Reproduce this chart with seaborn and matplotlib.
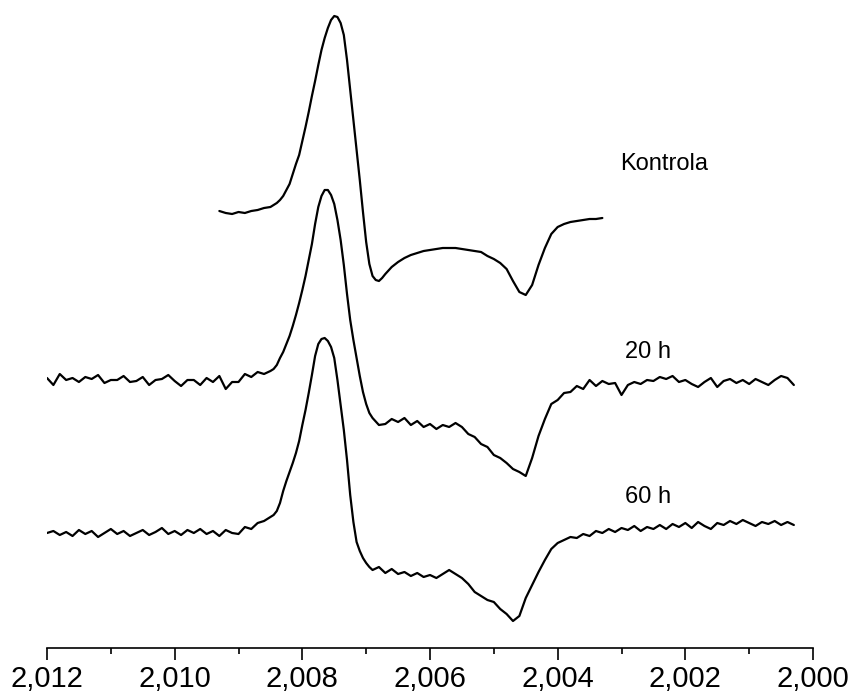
import numpy as np
import pandas as pd
import matplotlib
matplotlib.use("Agg")
import matplotlib.pyplot as plt
import seaborn as sns
from matplotlib.ticker import FixedLocator, FuncFormatter

# ---------------- data ----------------
# g-factor sampling: coarse step 0.0001 on the wings, 0.00005 across the peak
kon_g = [(2.0093, 2.0086, 8), (2.0085, 2.0067, 37), (2.0066, 2.0033, 34)]
long_g = [(2.0120, 2.0086, 35), (2.0085, 2.0069, 33), (2.0068, 2.0003, 66)]

# EPR signal, arbitrary units (vertical offsets included)
kon_left = [437, 435, 434, 436, 435, 437, 438, 440]
kon_peak = [441, 443, 445, 448, 452, 458, 464, 474, 484, 493,
            507, 521, 536, 552, 567, 583, 598, 610, 620, 628,
            632, 631, 625, 613, 588, 558, 528, 498, 468, 436,
            406, 384, 372, 368, 367, 370, 374]
kon_right = [381, 386, 390, 393, 395, 397, 398, 399, 400, 400,
             400, 399, 398, 397, 396, 392, 389, 385, 379, 367,
             356, 353, 363, 383, 400, 414, 421, 424, 426, 427,
             428, 429, 429, 430]

h20_left = [270, 263, 274, 268, 270, 266, 271, 269, 273, 265,
            268, 268, 272, 266, 267, 271, 263, 268, 269, 273,
            267, 262, 268, 268, 263, 270, 266, 272, 259, 266,
            266, 274, 271, 276, 274]
h20_peak = [277, 279, 283, 290, 296, 304, 312, 322, 333, 345,
            358, 372, 388, 404, 424, 441, 452, 458, 458, 453,
            444, 428, 408, 383, 354, 328, 308, 290, 272, 256,
            244, 235, 230]
h20_right = [223, 224, 229, 226, 230, 223, 227, 221, 224, 219,
             223, 221, 225, 221, 214, 211, 204, 201, 193, 190,
             185, 179, 176, 172, 190, 212, 229, 244, 248, 255,
             256, 262, 259, 268, 262, 267, 264, 265, 253, 263,
             266, 264, 268, 267, 271, 269, 272, 266, 268, 264,
             261, 266, 270, 261, 267, 269, 265, 268, 264, 269,
             266, 263, 268, 272, 270, 263]

h60_left = [115, 117, 113, 116, 112, 118, 114, 117, 111, 115,
            119, 114, 117, 112, 115, 118, 113, 116, 120, 114,
            117, 113, 118, 115, 119, 114, 117, 112, 118, 115,
            114, 121, 119, 125, 127]
h60_peak = [131, 133, 137, 145, 157, 167, 176, 185, 195, 207,
            223, 238, 255, 273, 292, 304, 309, 310, 307, 301,
            290, 268, 243, 218, 188, 153, 126, 106, 97, 90,
            85, 81, 78]
h60_right = [81, 75, 79, 74, 76, 72, 75, 71, 73, 70,
             74, 78, 74, 70, 64, 56, 52, 48, 46, 39,
             34, 27, 32, 50, 63, 76, 88, 99, 105, 108,
             111, 110, 114, 112, 117, 115, 119, 116, 120, 118,
             122, 117, 121, 119, 123, 119, 124, 121, 125, 120,
             126, 122, 119, 125, 123, 127, 124, 128, 125, 122,
             126, 124, 127, 123, 126, 123]

labels = ["Kontrola", "20 h", "60 h"]
label_g = [2.00302, 2.00295, 2.00295]
label_y = [478, 290, 145]

major_ticks = [2.012, 2.010, 2.008, 2.006, 2.004, 2.002, 2.000]
minor_ticks = [2.011, 2.009, 2.007, 2.005, 2.003, 2.001]

# ---------------- build table ----------------
def trace(name, grid, parts):
    g = np.concatenate([np.linspace(a, b, n) for a, b, n in grid])
    y = np.concatenate([np.asarray(p, float) for p in parts])
    return pd.DataFrame({"g": g, "signal": y, "sample": name})

df = pd.concat([
    trace("Kontrola", kon_g, [kon_left, kon_peak, kon_right]),
    trace("20 h", long_g, [h20_left, h20_peak, h20_right]),
    trace("60 h", long_g, [h60_left, h60_peak, h60_right]),
], ignore_index=True)

# ---------------- plot ----------------
sns.set_theme(style="white")
plt.rcParams["font.family"] = ["Liberation Sans", "DejaVu Sans"]

fig = plt.figure(figsize=(8.51, 6.93), dpi=100)
ax = fig.add_axes([47 / 851, 45 / 693, (813 - 47) / 851, 648 / 693])

for name in labels:
    sns.lineplot(data=df[df["sample"] == name], x="g", y="signal",
                 estimator=None, sort=False, color="black", linewidth=1.6, ax=ax)

ax.set_xlim(2.012, 2.000)
ax.set_ylim(0, 648)
ax.set_xlabel("")
ax.set_ylabel("")
ax.set_yticks([])
for s in ["top", "right", "left"]:
    ax.spines[s].set_visible(False)
ax.spines["bottom"].set_color("black")
ax.spines["bottom"].set_linewidth(1.2)
ax.patch.set_alpha(0)

ax.xaxis.set_major_locator(FixedLocator(major_ticks))
ax.xaxis.set_minor_locator(FixedLocator(minor_ticks))
ax.xaxis.set_major_formatter(FuncFormatter(lambda v, p: f"{v:.3f}".replace(".", ",")))
ax.tick_params(axis="x", which="major", direction="out", length=8.5, width=1.2,
               color="black", labelsize=21, pad=4, bottom=True, labelcolor="black")
ax.tick_params(axis="x", which="minor", direction="out", length=4.5, width=1.2,
               color="black", bottom=True)

for t, gx, gy in zip(labels, label_g, label_y):
    ax.text(gx, gy, t, fontsize=17, ha="left", va="baseline", color="black")

fig.savefig("out.png", dpi=100)
